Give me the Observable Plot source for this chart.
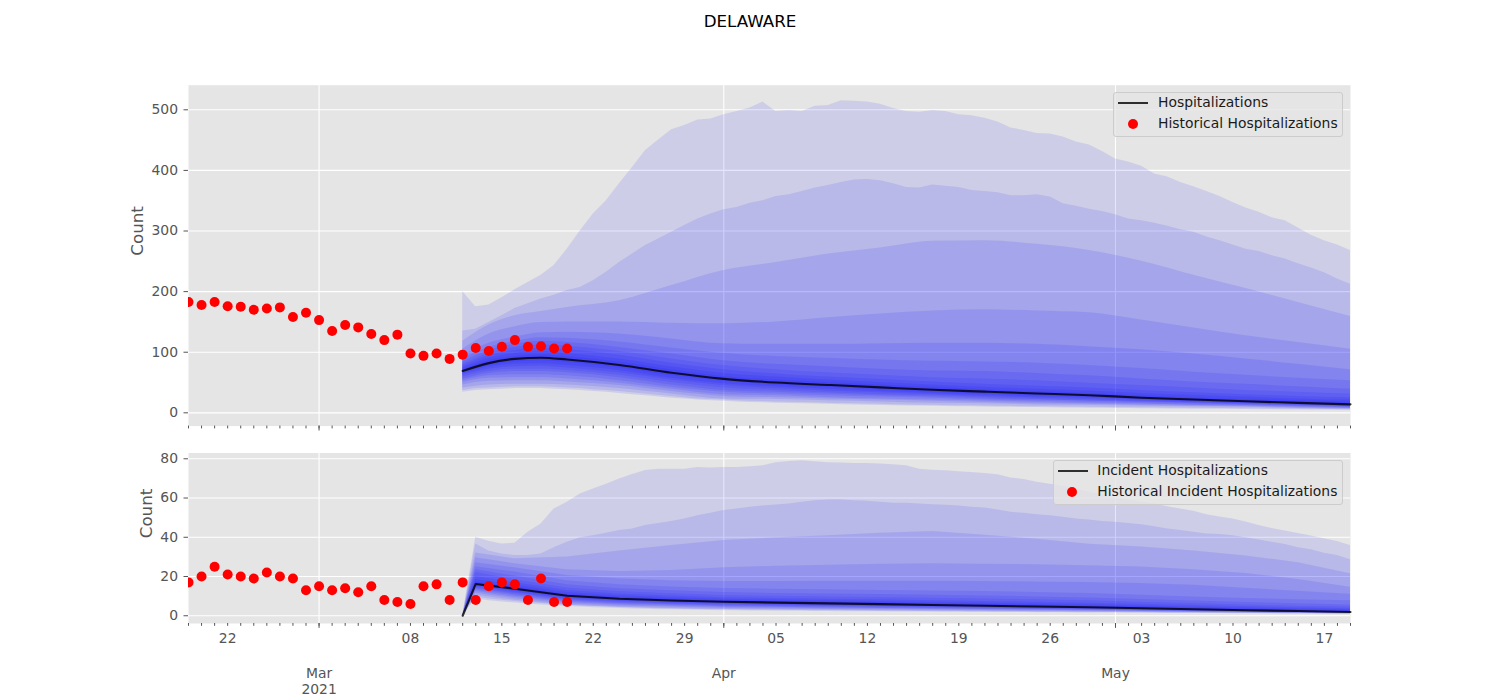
<!DOCTYPE html>
<html>
<head>
<meta charset="utf-8">
<script src="https://cdn.jsdelivr.net/npm/d3@7"></script>
<script src="https://cdn.jsdelivr.net/npm/@observablehq/plot@0.6"></script>
<style>
  body { margin: 0; background: #ffffff; font-family: "DejaVu Sans", sans-serif; }
  #wrap { position: relative; width: 1500px; height: 700px; overflow: hidden; background: #ffffff; }
  #wrap svg { position: absolute; left: 0; }
  .title { position: absolute; left: 0; width: 1500px; top: 13px; text-align: center; font-size: 16.7px; line-height: 1; color: #000; }
  .lgbox { position: absolute; background: rgba(229,229,229,0.8); border: 1px solid #cccccc; border-radius: 3px; box-sizing: border-box; }
  .lgtext { position: absolute; font-size: 13.9px; line-height: 1; color: #1a1a1a; white-space: nowrap; }
  .lgline { position: absolute; height: 2px; background: rgba(0,0,0,0.8); }
  .lgdot { position: absolute; width: 10px; height: 10px; border-radius: 50%; background: #ff0000; }
</style>
</head>
<body>
<div id="wrap">
  <div class="title">DELAWARE</div>
</div>
<script>
const D = s => new Date(s + "T00:00:00Z");

// ---------- axis / category data ----------
const xStart = "2021-02-19", xEnd = "2021-05-19";
const histStart = "2021-02-19", histEndExcl = "2021-03-21";
const projStart = "2021-03-12", projEndExcl = "2021-05-20";
const monthTickDates = ["2021-03-01", "2021-04-01", "2021-05-01"];
const monthTickLabels = ["Mar\n2021", "Apr", "May"];
const weekTickDates = ["2021-02-22","2021-03-08","2021-03-15","2021-03-22","2021-03-29","2021-04-05","2021-04-12","2021-04-19","2021-04-26","2021-05-03","2021-05-10","2021-05-17"];
const weekTickLabels = ["22","08","15","22","29","05","12","19","26","03","10","17"];
const hospYTicks = [0, 100, 200, 300, 400, 500];
const incYTicks = [0, 20, 40, 60, 80];

// ---------- historical observations (daily Feb 19 - Mar 20) ----------
const histHosp = [183,178,183,176,175,170,172,174,158,165,153,135,145,141,130,120,129,98,94,98,89,96,107,102,109,120,109,110,106,106];
const histInc  = [17,20,25,21,20,19,22,20,19,13,15,13,14,12,15,8,7,6,15,16,8,17,8,15,17,16,8,19,7,7];

// ---------- Hospitalizations: outer quantiles, daily Mar 12 - May 19 ----------
const hospQ99 = [200,175,178,190,203,215,227,243,270,300,328,350,378,405,433,450,467,474,483,485,
  492,497,503,513,497,499,497,506,507,515,514,513,509,502,497,496,499,497,492,490,486,480,470,466,461,460,455,447,442,431,
  419,414,407,394,389,380,373,365,357,347,338,331,322,317,305,293,284,277,268];
const hospQ975 = [135,138,149,160,172,180,188,194,202,207,218,232,248,262,276,287,298,309,320,328,
  335,339,346,350,357,360,365,371,375,380,384,385,383,378,372,371,376,374,372,367,365,363,358,358,360,356,345,341,336,332,
  327,320,317,313,308,302,298,290,284,277,270,266,259,254,246,239,231,221,212];
const hospQ025 = [37,40,41,42,43,43,43,42,41,40,38,37,35,33,31,29,27,25,23,22,
  21,20,19,18.5,18,17.5,17,16.5,16,15.5,15,14.5,14,13.5,13,12.7,12.4,12.1,11.8,11.5,11.2,11,10.7,10.4,10.2,10,9.7,9.5,9.3,9,
  8.8,8.6,8.4,8.2,8,7.8,7.6,7.4,7.2,7,6.8,6.6,6.4,6.2,6,5.8,5.6,5.4,5.2];
const hospQ01 = [34,37,38,39,40,40,40,39,38,37,35,34,32,30,28,26,24,23,21,20,
  19,18,17,16.5,16,15.5,15,14.5,14,13.5,13,12.6,12.2,11.8,11.4,11.1,10.8,10.5,10.2,9.9,9.6,9.4,9.1,8.8,8.6,8.4,8.1,7.9,7.7,7.5,
  7.3,7.1,6.9,6.7,6.5,6.3,6.1,5.9,5.7,5.5,5.3,5.1,4.9,4.7,4.5,4.3,4.1,3.9,3.7];

// ---------- Hospitalizations: inner quantiles on a sparser date grid ----------
const hospGridDates = ["2021-03-12","2021-03-14","2021-03-16","2021-03-18","2021-03-20","2021-03-24","2021-03-28","2021-04-01","2021-04-05","2021-04-09","2021-04-13","2021-04-17","2021-04-21","2021-04-25","2021-04-29","2021-05-03","2021-05-07","2021-05-11","2021-05-15","2021-05-19"];
const hospMedian = [69,82,89,91,88,79,66,56,50,46,42,38,35,32,29,25,22,19,16.5,14];
const hospQ95 = [118,145,160,167,174,185,210,235,248,262,272,283,284,278,268,250,227,205,182,159];
const hospQ90 = [105,130,142,149,150,150,148,147,150,157,163,168,170,168,165,153,140,127,116,105];
const hospQ85 = [95,115,125,132,133,130,122,114,113,113,114,115,115,113,109,104,97,89,80,71];
const hospQ80 = [89,108,118,124,123,117,107,98,93,90,87,85,84,82,78,73,67,62,57,53];
const hospQ75 = [84,103,113,118,116,108,97,86,80,76,72,69,68,65,61,56,51,47,43,39];
const hospQ70 = [80,98,108,112,110,101,89,78,71,66,62,58,56,53,49,45,41,37,34,31];
const hospQ65 = [77,94,103,106,104,95,82,71,64,59,55,51,47,44,41,37,33,30,27,25];
const hospQ60 = [74,90,98,101,98,89,76,65,59,54,50,46,42,39,36,32,29,26,23,21];
const hospQ55 = [71,86,93,96,93,84,71,60,54,50,46,42,38,35,32,28,25,22,20,18];
const hospQ45 = [67,78,84,86,83,74,61,52,46,42,38,34,31,28,26,22,19,17,15,13];
const hospQ40 = [64,75,80,81,78,70,57,48,43,39,35,32,29,26,24,21,18,16,14,12];
const hospQ35 = [62,72,76,77,74,66,54,45,40,36,33,30,27,24,22,19,17,15,13,11];
const hospQ30 = [59,68,72,72,70,62,50,41,37,33,30,28,25,22,20,18,16,14,12,10];
const hospQ25 = [56,65,68,68,66,58,46,37,34,31,28,26,23,21,19,17,15,13,11,9];
const hospQ20 = [53,61,63,63,61,53,42,34,31,28,26,24,21,19,17,15,13,12,10,8];
const hospQ15 = [50,57,58,58,56,49,39,30,28,25,23,21,19,17,15,14,12,11,9,7.3];
const hospQ10 = [46,52,53,53,51,45,35,27,25,23,21,19,17,15,14,12,11,10,8,6.6];
const hospQ05 = [41,46,47,47,46,40,31,23,22,20,18,16,15,13,12,11,10,9,7,5.9];

// ---------- Incident hospitalizations: outer quantiles, daily Mar 12 - May 19 ----------
const incQ99 = [0,40,38,36.6,37,42.5,46.8,54.4,57.8,62,64.6,67,69.7,72,74,74.7,74.7,74.7,75.6,75.3,
  75.6,75.6,76,76.4,78,78.6,79,78.5,78,77.8,77.6,77.6,77.3,77,76.4,74.7,74.2,73.9,73.4,73,72.5,71.9,70.2,69.5,68,67,66,64.5,63,61.5,
  60,59,58,57,55.5,54.4,53.2,51.5,50.3,49.3,47.8,46,44.5,43.2,41.9,40.6,39.3,37.8,35.8];
const incQ975 = [0,36.6,33,31.5,30.7,30.7,31.5,34.6,37.5,39.7,40.8,42,43.4,44.2,46,47,48,49.3,51,52.2,
  53.6,54.4,55.3,56,56.4,57,57.8,58.6,59,59,58.6,58.3,57.8,57.3,57.3,57,56.6,56.3,56,55.3,54.9,53.9,52.7,52.2,51.5,51,50.2,49.3,48.8,48,
  47.6,47,46.4,45.4,44.2,43.4,42.5,41.7,41.4,40.8,39.7,38.6,37.5,36.3,34.6,33.6,31.9,30.7,28.5];
const incQ025 = [0,9.5,8.6,7.9,7.3,6.7,6.2,5.7,5.3,5.0,4.7,4.4,4.2,4.0,3.8,3.6,3.4,3.3,3.2,3.1,
  3.0,2.9,2.85,2.8,2.75,2.7,2.65,2.6,2.55,2.5,2.45,2.4,2.35,2.3,2.25,2.2,2.15,2.1,2.05,2.0,2.0,1.95,1.9,1.85,1.8,1.8,1.75,1.7,1.65,1.6,
  1.6,1.55,1.5,1.45,1.4,1.4,1.35,1.3,1.25,1.2,1.2,1.15,1.1,1.05,1.0,1.0,0.95,0.9,0.85];
const incQ01 = [0,8.5,7.7,7.0,6.5,6.0,5.5,5.1,4.7,4.4,4.1,3.9,3.7,3.5,3.3,3.1,3.0,2.9,2.8,2.7,
  2.6,2.5,2.45,2.4,2.35,2.3,2.25,2.2,2.15,2.1,2.05,2.0,2.0,1.95,1.9,1.85,1.8,1.8,1.75,1.7,1.7,1.65,1.6,1.6,1.55,1.5,1.5,1.45,1.4,1.4,
  1.35,1.3,1.3,1.25,1.2,1.2,1.15,1.1,1.1,1.05,1.0,1.0,0.95,0.9,0.9,0.85,0.8,0.8,0.75];

// ---------- Incident hospitalizations: inner quantiles on a sparser date grid ----------
const incGridDates = ["2021-03-12","2021-03-13","2021-03-16","2021-03-20","2021-03-24","2021-03-28","2021-04-01","2021-04-05","2021-04-09","2021-04-13","2021-04-17","2021-04-21","2021-04-25","2021-04-29","2021-05-03","2021-05-07","2021-05-11","2021-05-15","2021-05-19"];
const incMedian = [0,16.2,13.8,10.2,8.7,7.8,7.1,6.7,6.3,5.9,5.5,5.1,4.7,4.3,3.8,3.3,2.8,2.4,1.9];
const incQ95 = [0,32.0,29.0,30.0,33.0,35.8,38.3,39.7,40.8,42.0,43.0,41.0,39.0,36.5,35.0,33.0,30.5,27.0,21.4];
const incQ90 = [0,29.5,26.5,23.5,22.5,23.0,24.5,25.2,25.8,26.3,26.5,26.3,26.0,25.5,24.8,23.5,21.5,18.5,14.5];
const incQ85 = [0,27.0,24.5,20.5,18.8,17.8,17.5,17.5,17.6,17.6,17.6,17.4,17.2,17.0,16.5,15.5,14.0,12.5,11.0];
const incQ80 = [0,25.0,22.3,17.8,15.8,14.6,13.9,13.5,13.2,12.9,12.6,12.3,11.9,11.3,10.4,9.6,8.8,8.2,7.6];
const incQ75 = [0,23.5,20.2,15.8,13.8,12.7,11.8,11.4,11.1,10.8,10.5,10.1,9.6,9.1,8.3,7.5,6.8,6.1,5.5];
const incQ70 = [0,22.0,18.4,14.2,12.3,11.2,10.3,9.9,9.6,9.3,8.9,8.5,8.1,7.6,6.9,6.2,5.5,4.9,4.4];
const incQ65 = [0,20.0,16.9,12.9,11.1,10.1,9.2,8.8,8.4,8.1,7.7,7.3,6.9,6.4,5.8,5.2,4.6,4.1,3.6];
const incQ60 = [0,18.5,15.7,11.9,10.2,9.2,8.4,8.0,7.6,7.2,6.8,6.4,6.0,5.6,5.0,4.5,4.0,3.5,3.0];
const incQ55 = [0,17.2,14.7,11.0,9.4,8.5,7.7,7.3,6.9,6.5,6.1,5.7,5.3,4.9,4.4,3.9,3.4,2.9,2.4];
const incQ45 = [0,15.7,13.1,9.6,8.1,7.3,6.6,6.2,5.8,5.4,5.0,4.7,4.3,3.9,3.4,3.0,2.5,2.1,1.7];
const incQ40 = [0,15.3,12.5,9.1,7.6,6.8,6.2,5.8,5.4,5.0,4.7,4.4,4.0,3.6,3.2,2.8,2.3,1.9,1.6];
const incQ35 = [0,14.8,11.9,8.6,7.2,6.4,5.8,5.4,5.0,4.7,4.4,4.1,3.7,3.4,3.0,2.6,2.2,1.8,1.5];
const incQ30 = [0,14.2,11.3,8.1,6.7,6.0,5.4,5.0,4.7,4.4,4.1,3.8,3.5,3.2,2.8,2.4,2.0,1.7,1.4];
const incQ25 = [0,13.6,10.7,7.6,6.3,5.6,5.0,4.6,4.3,4.0,3.8,3.5,3.2,2.9,2.6,2.2,1.9,1.6,1.3];
const incQ20 = [0,13.0,10.1,7.1,5.8,5.2,4.6,4.3,4.0,3.7,3.5,3.2,3.0,2.7,2.4,2.1,1.8,1.5,1.2];
const incQ15 = [0,12.3,9.4,6.6,5.4,4.7,4.2,3.9,3.6,3.4,3.2,2.9,2.7,2.5,2.2,1.9,1.6,1.4,1.1];
const incQ10 = [0,11.5,8.7,6.0,4.9,4.3,3.7,3.5,3.2,3.0,2.8,2.6,2.4,2.2,2.0,1.7,1.5,1.3,1.0];
const incQ05 = [0,10.5,7.9,5.4,4.3,3.7,3.2,3.0,2.8,2.6,2.4,2.3,2.1,1.9,1.7,1.5,1.3,1.1,0.9];

// ---------- derived tables ----------
const histDates = d3.utcDay.range(D(histStart), D(histEndExcl));
const projDates = d3.utcDay.range(D(projStart), D(projEndExcl));
const allDays = d3.utcDay.range(D(xStart), d3.utcDay.offset(D(xEnd), 1));
const monthTicks = monthTickDates.map(D);
const weekTicks = weekTickDates.map(D);
const hospGrid = hospGridDates.map(D);
const incGrid = incGridDates.map(D);

const rowsOf = (dates, lo, hi) => dates.map((d, i) => ({x: d, lo: lo[i], hi: hi[i]}));
const series = (dates, ys) => dates.map((d, i) => ({x: d, y: ys[i]}));

const hospBands = [
  [projDates, hospQ01, hospQ99, "linear"],
  [projDates, hospQ025, hospQ975, "linear"],
  [hospGrid, hospQ05, hospQ95, "monotone-x"],
  [hospGrid, hospQ10, hospQ90, "monotone-x"],
  [hospGrid, hospQ15, hospQ85, "monotone-x"],
  [hospGrid, hospQ20, hospQ80, "monotone-x"],
  [hospGrid, hospQ25, hospQ75, "monotone-x"],
  [hospGrid, hospQ30, hospQ70, "monotone-x"],
  [hospGrid, hospQ35, hospQ65, "monotone-x"],
  [hospGrid, hospQ40, hospQ60, "monotone-x"],
  [hospGrid, hospQ45, hospQ55, "monotone-x"]
];
const incBands = [
  [projDates, incQ01, incQ99, "linear"],
  [projDates, incQ025, incQ975, "linear"],
  [incGrid, incQ05, incQ95, "linear"],
  [incGrid, incQ10, incQ90, "linear"],
  [incGrid, incQ15, incQ85, "linear"],
  [incGrid, incQ20, incQ80, "linear"],
  [incGrid, incQ25, incQ75, "linear"],
  [incGrid, incQ30, incQ70, "linear"],
  [incGrid, incQ35, incQ65, "linear"],
  [incGrid, incQ40, incQ60, "linear"],
  [incGrid, incQ45, incQ55, "linear"]
];

const FS = 13.9;
const GRAY = "#555555";

function panel({height, marginTop, marginBottom, yDomain, yTicks, bands, median, medianCurve, hist, labelDx, showXLabels}) {
  const marks = [
    Plot.frame({fill: "#e5e5e5", stroke: null}),
    Plot.gridY(yTicks, {stroke: "#ffffff", strokeOpacity: 1, strokeWidth: 1.1}),
    Plot.gridX(monthTicks, {stroke: "#ffffff", strokeOpacity: 1, strokeWidth: 1.1}),
    ...bands.map(([dates, lo, hi, curve]) =>
      Plot.areaY(rowsOf(dates, lo, hi), {x: "x", y1: "lo", y2: "hi", fill: "#0000ff", fillOpacity: 0.1, curve})),
    Plot.lineY(median, {x: "x", y: "y", stroke: "#000000", strokeOpacity: 0.8, strokeWidth: 2.1, curve: medianCurve}),
    Plot.dot(hist, {x: "x", y: "y", r: 5, fill: "#ff0000", stroke: null, clip: true}),
    Plot.axisY(yTicks, {tickSize: 4.5, tickPadding: 6, fontSize: FS, stroke: GRAY, fill: GRAY, label: null}),
    Plot.axisX(allDays, {tickSize: 2.8, tickFormat: () => "", stroke: GRAY, label: null}),
    Plot.axisX(monthTicks, {tickSize: 4.9, tickFormat: () => "", stroke: GRAY, label: null}),
    Plot.text(["Count"], {text: d => d, frameAnchor: "left", dx: labelDx, rotate: -90, fontSize: 16.7, fill: GRAY})
  ];
  if (showXLabels) {
    marks.push(
      Plot.text(weekTicks, {x: d => d, text: (d, i) => weekTickLabels[i], frameAnchor: "bottom", dy: 9.7, lineAnchor: "top", fontSize: FS, fill: GRAY}),
      Plot.text(monthTicks, {x: d => d, text: (d, i) => monthTickLabels[i], frameAnchor: "bottom", dy: 43, lineAnchor: "top", lineHeight: 1.15, fontSize: FS, fill: GRAY})
    );
  }
  return Plot.plot({
    width: 1500,
    height,
    marginLeft: 188,
    marginRight: 150,
    marginTop,
    marginBottom,
    x: {type: "utc", domain: [D(xStart), D(xEnd)], label: null},
    y: {domain: yDomain, label: null},
    style: {fontFamily: "DejaVu Sans, sans-serif", fontSize: FS + "px", color: GRAY, background: "transparent", overflow: "visible"},
    marks
  });
}

const wrapEl = document.getElementById("wrap");

const topChart = panel({
  height: 440, marginTop: 84.7, marginBottom: 14.4,
  yDomain: [-21.9, 540.6], yTicks: hospYTicks,
  bands: hospBands, median: series(hospGrid, hospMedian), medianCurve: "monotone-x",
  hist: series(histDates, histHosp), labelDx: -51.3, showXLabels: false
});
topChart.style.top = "0px";
wrapEl.appendChild(topChart);

const bottomChart = panel({
  height: 260, marginTop: 12.5, marginBottom: 77,
  yDomain: [-3.95, 82.95], yTicks: incYTicks,
  bands: incBands, median: series(incGrid, incMedian), medianCurve: "linear",
  hist: series(histDates, histInc), labelDx: -42, showXLabels: true
});
bottomChart.style.top = "440px";
wrapEl.appendChild(bottomChart);

// ---------- legends ----------
function legend(box, lineY, dotX, dotY, textX, t1Top, t2Top, labels) {
  const b = document.createElement("div");
  b.className = "lgbox";
  Object.assign(b.style, {left: box[0] + "px", top: box[1] + "px", width: box[2] + "px", height: box[3] + "px"});
  wrapEl.appendChild(b);
  const l = document.createElement("div");
  l.className = "lgline";
  Object.assign(l.style, {left: (box[0] + 5) + "px", top: (lineY - 1) + "px", width: "30px"});
  wrapEl.appendChild(l);
  const d = document.createElement("div");
  d.className = "lgdot";
  Object.assign(d.style, {left: (dotX - 5) + "px", top: (dotY - 5) + "px"});
  wrapEl.appendChild(d);
  [[labels[0], t1Top], [labels[1], t2Top]].forEach(([txt, tp]) => {
    const t = document.createElement("div");
    t.className = "lgtext";
    t.textContent = txt;
    Object.assign(t.style, {left: textX + "px", top: tp + "px"});
    wrapEl.appendChild(t);
  });
}
legend([1113, 91.5, 230, 45.5], 102.7, 1133, 124.3, 1158, 95.5, 116.5, ["Hospitalizations", "Historical Hospitalizations"]);
legend([1053, 459.5, 290, 45.5], 470.7, 1072.3, 491.7, 1097.3, 463.9, 484.5, ["Incident Hospitalizations", "Historical Incident Hospitalizations"]);
</script>
</body>
</html>
